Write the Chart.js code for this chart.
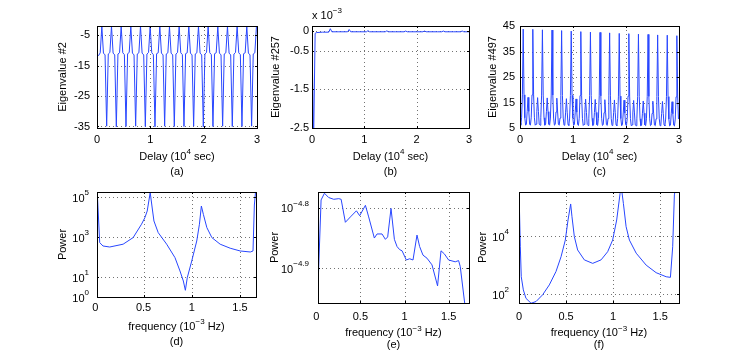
<!DOCTYPE html>
<html><head><meta charset="utf-8">
<script src="https://cdn.jsdelivr.net/npm/chart.js@4/dist/chart.umd.min.js"></script>
<style>
html,body{margin:0;padding:0;background:#fff;width:749px;height:352px;overflow:hidden}
#wrap{position:relative;width:749px;height:352px;background:#fff}
canvas{position:absolute}
</style></head><body><div id="wrap"></div>
<script>
// ---------- data ----------
// (a) Eigenvalue #2 vs delay (10^4 s), sampled every aStep
const aStep = 0.0302;
const aValues = [
 -11.2,-11.7,-10.8,-2.1,-10.9,-11.5,
 -34.9,-11.2,-10.7,-2.0,-10.9,-11.5,
 -35.1,-11.2,-10.8,-2.1,-10.8,-11.4,
 -35.0,-11.1,-10.7,-2.2,-10.9,-11.5,
 -34.9,-11.2,-10.8,-2.0,-10.9,-11.5,
 -35.0,-11.2,-10.7,-2.1,-10.8,-11.4,
 -35.1,-11.1,-10.8,-2.1,-10.9,-11.5,
 -34.9,-11.2,-10.8,-2.2,-10.9,-11.5,
 -35.0,-11.2,-10.7,-2.1,-10.8,-11.4,
 -35.0,-11.1,-10.8,-2.0,-10.9,-11.5,
 -34.9,-11.2,-10.8,-2.1,-10.9,-11.5,
 -35.1,-11.2,-10.7,-2.1,-10.8,-11.4,
 -35.0,-11.1,-10.8,-2.2,-10.9,-11.5,
 -34.9,-11.2,-10.8,-2.1,-10.9,-11.5,
 -35.0,-11.2,-10.7,-2.0,-10.8,-11.4,
 -35.0,-11.1,-10.8,-2.1,-10.9,-11.5,
 -34.9,-11.2,-10.8,-2.1
];
const aXTicks = [0,1,2,3];
const aXLabels = ['0','1','2','3'];
const aYTicks = [-35,-25,-15,-5];
const aYLabels = ['-35','-25','-15','-5'];

// (b) Eigenvalue #257 (x 10^-3)
const bDelay = [0,0.03,0.06,0.09,0.2,0.32,0.35,0.38,0.5,0.68,0.71,0.74,0.9,1.04,1.07,1.10,1.3,1.40,1.43,1.46,1.6,1.76,1.79,1.82,2.0,2.12,2.15,2.18,2.4,2.48,2.51,2.54,2.7,2.84,2.87,2.90,3.0];
const bValues = [-0.2,-2.9,-0.05,-0.03,-0.02,-0.02,0.07,-0.01,-0.01,-0.01,0.05,-0.01,-0.01,-0.01,0.02,-0.01,-0.01,-0.01,0.015,-0.01,-0.01,-0.01,0.01,-0.01,-0.01,-0.01,0.01,-0.01,-0.01,-0.01,0.01,-0.01,-0.01,-0.01,0.01,-0.01,-0.01];
const bXTicks = [0,1,2,3];
const bXLabels = ['0','1','2','3'];
const bYTicks = [-2.5,-1.5,-0.5,0];
const bYLabels = ['-2.5','-1.5','-0.5','0'];

// (c) Eigenvalue #497, sampled every cStep
const cStep = 0.0151;
const cValues = [
 7.0,6.1,9.0,18.0,43.8,18.0,9.0,6.1,6.5,11.5,17.0,11.5,
 6.5,6.1,9.0,18.0,43.7,18.0,9.0,6.1,6.5,11.4,16.9,11.4,
 6.5,6.1,9.0,17.9,43.5,17.9,9.0,6.1,6.5,11.4,16.8,11.4,
 6.5,6.1,8.9,17.9,43.4,17.9,8.9,6.1,6.4,11.3,16.7,11.3,
 6.4,6.1,8.9,17.8,43.2,17.8,8.9,6.1,6.4,11.2,16.5,11.2,
 6.4,6.0,8.9,17.8,43.0,17.8,8.9,6.0,6.4,11.2,16.4,11.2,
 6.4,6.0,8.8,17.7,42.8,17.7,8.8,6.0,6.4,11.1,16.3,11.1,
 6.4,6.0,8.8,17.7,42.6,17.7,8.8,6.0,6.3,11.1,16.2,11.1,
 6.3,6.0,8.8,17.6,42.5,17.6,8.8,6.0,6.3,11.0,16.1,11.0,
 6.3,6.0,8.7,17.6,42.3,17.6,8.7,6.0,6.3,11.0,16.0,11.0,
 6.3,5.9,8.7,17.5,42.1,17.5,8.7,5.9,6.3,10.9,15.9,10.9,
 6.3,5.9,8.7,17.5,42.0,17.5,8.7,5.9,6.2,10.9,15.8,10.9,
 6.2,5.9,8.6,17.4,41.8,17.4,8.6,5.9,6.2,10.8,15.6,10.8,
 6.2,5.9,8.6,17.4,41.7,17.4,8.6,5.9,6.2,10.7,15.5,10.7,
 6.2,5.9,8.6,17.3,41.5,17.3,8.6,5.9,6.2,10.7,15.4,10.7,
 6.2,5.8,8.5,17.3,41.4,17.3,8.5,5.8,6.1,10.6,15.3,10.6,
 6.1,5.8,8.5,17.2,41.2,17.2,8.5
];
const cXTicks = [0,1,2,3];
const cXLabels = ['0','1','2','3'];
const cYTicks = [5,15,25,35,45];
const cYLabels = ['5','15','25','35','45'];

// (d) Power spectrum
const dFreq = [0.017,0.045,0.079,0.149,0.288,0.392,0.479,0.514,0.538,0.569,0.594,0.608,0.652,0.740,0.826,0.878,0.913,0.934,0.954,1.0,1.052,1.08,1.1,1.121,1.157,1.209,1.295,1.399,1.503,1.608,1.636,1.65,1.667];
const dPower = [316000,525,355,316,437,933,4365,9333,19950,166000,19950,6310,1660,437,93.3,20,6.3,2.16,9.3,63,631,4365,35480,13490,2951,933,437,275,200,178,200,39800,316000];
const dXTicks = [0,0.5,1,1.5];
const dXLabels = ['0','0.5','1','1.5'];
const dYTicks = [1,10,1000,100000];
const dYExp = ['0','1','3','5'];

// (e) Power spectrum
const eFreq = [0.02,0.055,0.093,0.141,0.198,0.255,0.282,0.330,0.387,0.455,0.492,0.557,0.594,0.658,0.689,0.745,0.783,0.809,0.847,0.885,0.915,0.945,0.972,1.02,1.058,1.096,1.141,1.171,1.209,1.254,1.311,1.374,1.413,1.450,1.499,1.574,1.612,1.631,1.70];
const ePower = [1.175e-5,1.633e-5,1.675e-5,1.648e-5,1.637e-5,1.641e-5,1.637e-5,1.500e-5,1.531e-5,1.567e-5,1.538e-5,1.600e-5,1.531e-5,1.413e-5,1.435e-5,1.435e-5,1.406e-5,1.419e-5,1.581e-5,1.406e-5,1.368e-5,1.352e-5,1.346e-5,1.300e-5,1.306e-5,1.300e-5,1.429e-5,1.368e-5,1.324e-5,1.309e-5,1.276e-5,1.178e-5,1.346e-5,1.331e-5,1.300e-5,1.291e-5,1.297e-5,1.268e-5,1.047e-5];
const eXTicks = [0,0.5,1,1.5];
const eXLabels = ['0','0.5','1','1.5'];
const eYTicks = [1.2589e-5,1.5849e-5];
const eYExp = ['\u22124.9','\u22124.8'];

// (f) Power spectrum
const fFreq = [0.0,0.014,0.024,0.046,0.074,0.128,0.181,0.251,0.322,0.393,0.447,0.492,0.521,0.549,0.563,0.588,0.623,0.694,0.783,0.872,0.942,0.995,1.038,1.074,1.09,1.109,1.138,1.173,1.245,1.351,1.457,1.564,1.609,1.633,1.651,1.667];
const fPower = [398000,4266,398,141,72.4,49,56.2,95.5,209,603,1950,7244,35480,125900,45710,9550,3311,1514,1148,1514,2884,7244,35480,288400,398000,131800,20890,7244,2570,1000,550,398,380,4266,257000,600000];
const fXTicks = [0,0.5,1,1.5];
const fXLabels = ['0','0.5','1','1.5'];
const fYTicks = [100,10000];
const fYExp = ['2','4'];

// ---------- rendering ----------
const FONT = '"Liberation Sans", Arial, Helvetica, sans-serif';
const LINE = 'rgb(40,70,255)';
const FS = 11, SFS = 8;

function richWidth(ctx, parts){
  let w = 0;
  parts.forEach(p => { ctx.font = (p[1] ? SFS : FS) + 'px ' + FONT; w += ctx.measureText(p[0]).width; });
  return w;
}
function drawRich(ctx, parts, x, y, align, raise){
  raise = raise || 5;
  const w = richWidth(ctx, parts);
  let cx = align === 'center' ? x - w/2 : align === 'right' ? x - w : x;
  ctx.textAlign = 'left'; ctx.textBaseline = 'middle'; ctx.fillStyle = '#000';
  parts.forEach(p => {
    ctx.font = (p[1] ? SFS : FS) + 'px ' + FONT;
    ctx.fillText(p[0], cx, p[1] ? y - raise : y);
    cx += ctx.measureText(p[0]).width;
  });
}

const panels = [
 {canvas:[40,0,230,180], box:[97,26,257,128], xs: aValues.map((v,i)=>i*aStep), ys:aValues,
  xMin:0, xMax:3, yMin:-35.5, yMax:-2, yType:'linear',
  xT:aXTicks, xL:aXLabels, yT:aYTicks, yL:aYLabels.map(s=>[[s]]), xGap:11.5, yGap:7,
  yTitle:'Eigenvalue #2', yTitleX:62.5,
  xTitle:[['Delay (10'],['4',1],[' sec)']], xTitleY:156.7, sub:'(a)', subY:171.5},
 {canvas:[262,0,228,180], box:[312,26,469,128], xs:bDelay, ys:bValues,
  xMin:0, xMax:3, yMin:-2.5, yMax:0.14, yType:'linear',
  xT:bXTicks, xL:bXLabels, yT:bYTicks, yL:bYLabels.map(s=>[[s]]), xGap:11.5, yGap:3,
  yTitle:'Eigenvalue #257', yTitleX:276,
  xTitle:[['Delay (10'],['4',1],[' sec)']], xTitleY:156.7, sub:'(b)', subY:171.5,
  extra:{parts:[['x 10'],['\u22123',1]], x:312, y:16}},
 {canvas:[475,0,230,180], box:[520,26,679,128], xs: cValues.map((v,i)=>i*cStep), ys:cValues,
  xMin:0, xMax:3, yMin:5, yMax:45, yType:'linear',
  xT:cXTicks, xL:cXLabels, yT:cYTicks, yL:cYLabels.map(s=>[[s]]), xGap:11.5, yGap:5,
  yTitle:'Eigenvalue #497', yTitleX:492.7,
  xTitle:[['Delay (10'],['4',1],[' sec)']], xTitleY:156.7, sub:'(c)', subY:171.5},
 {canvas:[40,176,230,176], box:[97,192,256,297], xs:dFreq, ys:dPower,
  xMin:0.017, xMax:1.667, yMin:1, yMax:178000, yType:'logarithmic',
  xT:dXTicks, xL:dXLabels, yT:dYTicks, yL:dYExp.map(e=>[['10'],[e,1]]), xGap:11, yGap:8,
  yTitle:'Power', yTitleX:63.3,
  xTitle:[['frequency (10'],['\u22123',1],[' Hz)']], xTitleY:326.7, sub:'(d)', subY:341.5},
 {canvas:[262,176,228,176], box:[318,192,469,303], xs:eFreq, ys:ePower,
  xMin:0.02, xMax:1.73, yMin:1.104e-5, yMax:1.683e-5, yType:'logarithmic',
  xT:eXTicks, xL:eXLabels, yT:eYTicks, yL:eYExp.map(e=>[['10'],[e,1]]), xGap:13.5, yGap:9,
  yTitle:'Power', yTitleX:275,
  xTitle:[['frequency (10'],['\u22123',1],[' Hz)']], xTitleY:333.3, sub:'(e)', subY:344.5},
 {canvas:[475,176,230,176], box:[519,192,679,303], xs:fFreq, ys:fPower,
  xMin:0, xMax:1.7, yMin:50, yMax:324000, yType:'logarithmic',
  xT:fXTicks, xL:fXLabels, yT:fYTicks, yL:fYExp.map(e=>[['10'],[e,1]]), xGap:13.5, yGap:10,
  yTitle:'Power', yTitleX:483.3,
  xTitle:[['frequency (10'],['\u22123',1],[' Hz)']], xTitleY:333.3, sub:'(f)', subY:344.5}
];

const decor = {
  id:'decor',
  beforeDatasetsDraw(chart){
    const p = chart.options.plugins.decor.panel;
    const ctx = chart.ctx, ca = chart.chartArea, sx = chart.scales.x, sy = chart.scales.y;
    ctx.save();
    ctx.strokeStyle = 'rgba(0,0,0,0.55)'; ctx.lineWidth = 1; ctx.setLineDash([1,3]);
    p.xT.forEach(v => {
      const px = Math.round(sx.getPixelForValue(v));
      if (px > ca.left + 1 && px < ca.right - 1) { ctx.beginPath(); ctx.moveTo(px+0.5, ca.top); ctx.lineTo(px+0.5, ca.bottom); ctx.stroke(); }
    });
    p.yT.forEach(v => {
      const py = Math.round(sy.getPixelForValue(v));
      if (py > ca.top + 1 && py < ca.bottom - 1) { ctx.beginPath(); ctx.moveTo(ca.left, py+0.5); ctx.lineTo(ca.right, py+0.5); ctx.stroke(); }
    });
    ctx.restore();
  },
  afterDatasetsDraw(chart){
    const p = chart.options.plugins.decor.panel;
    const ctx = chart.ctx, ca = chart.chartArea, sx = chart.scales.x, sy = chart.scales.y;
    const ox = p.canvas[0], oy = p.canvas[1];
    ctx.save();
    ctx.setLineDash([]);
    ctx.strokeStyle = '#000'; ctx.lineWidth = 1;
    ctx.strokeRect(ca.left + 0.5, ca.top + 0.5, ca.right - ca.left, ca.bottom - ca.top);
    // inward tick marks
    ctx.beginPath();
    p.xT.forEach(v => {
      const px = Math.round(sx.getPixelForValue(v)) + 0.5;
      if (px > ca.left + 1 && px < ca.right - 1) { ctx.moveTo(px, ca.bottom); ctx.lineTo(px, ca.bottom - 2); ctx.moveTo(px, ca.top); ctx.lineTo(px, ca.top + 2); }
    });
    p.yT.forEach(v => {
      const py = Math.round(sy.getPixelForValue(v)) + 0.5;
      if (py > ca.top + 1 && py < ca.bottom - 1) { ctx.moveTo(ca.left, py); ctx.lineTo(ca.left + 2, py); ctx.moveTo(ca.right, py); ctx.lineTo(ca.right - 2, py); }
    });
    ctx.stroke();
    // tick labels
    ctx.fillStyle = '#000';
    ctx.font = FS + 'px ' + FONT;
    ctx.textAlign = 'center'; ctx.textBaseline = 'middle';
    p.xT.forEach((v, i) => { ctx.fillText(p.xL[i], sx.getPixelForValue(v), ca.bottom + p.xGap); });
    const isLog = p.yType === 'logarithmic';
    p.yT.forEach((v, i) => {
      const py = sy.getPixelForValue(v);
      drawRich(ctx, p.yL[i], ca.left - p.yGap, isLog ? py + 1.5 : py, 'right', 6);
    });
    // titles (page coordinates)
    ctx.translate(-ox, -oy);
    const cxMid = (p.box[0] + p.box[2]) / 2;
    drawRich(ctx, p.xTitle, cxMid, p.xTitleY, 'center', 5);
    ctx.font = FS + 'px ' + FONT; ctx.textAlign = 'center'; ctx.textBaseline = 'middle';
    ctx.fillText(p.sub, cxMid, p.subY);
    ctx.save();
    ctx.translate(p.yTitleX, (p.box[1] + p.box[3]) / 2);
    ctx.rotate(-Math.PI / 2);
    ctx.fillText(p.yTitle, 0, 0);
    ctx.restore();
    if (p.extra) drawRich(ctx, p.extra.parts, p.extra.x, p.extra.y, 'left', 5);
    ctx.restore();
  }
};

const wrap = document.getElementById('wrap');
panels.forEach(p => {
  const [cx, cy, cw, ch] = p.canvas;
  const cv = document.createElement('canvas');
  cv.width = cw; cv.height = ch;
  cv.style.left = cx + 'px'; cv.style.top = cy + 'px';
  cv.style.width = cw + 'px'; cv.style.height = ch + 'px';
  wrap.appendChild(cv);
  new Chart(cv, {
    type: 'line',
    data: { datasets: [{
      data: p.xs.map((x, i) => ({x: x, y: p.ys[i]})),
      borderColor: LINE, borderWidth: 1, pointRadius: 0, tension: 0, fill: false, clip: 0
    }]},
    options: {
      responsive: false, animation: false, devicePixelRatio: 1, events: [],
      layout: { padding: { left: 0, bottom: 0, top: p.box[1] - cy, right: cx + cw - p.box[2] } },
      plugins: { legend: {display: false}, tooltip: {enabled: false}, title: {display: false}, decor: {panel: p} },
      scales: {
        x: { type: 'linear', min: p.xMin, max: p.xMax, ticks: {display: false}, grid: {display: false}, border: {display: false},
             afterFit(s) { s.height = cy + ch - p.box[3]; } },
        y: { type: p.yType, min: p.yMin, max: p.yMax, ticks: {display: false}, grid: {display: false}, border: {display: false},
             afterFit(s) { s.width = p.box[0] - cx; } }
      }
    },
    plugins: [decor]
  });
});
</script></body></html>
